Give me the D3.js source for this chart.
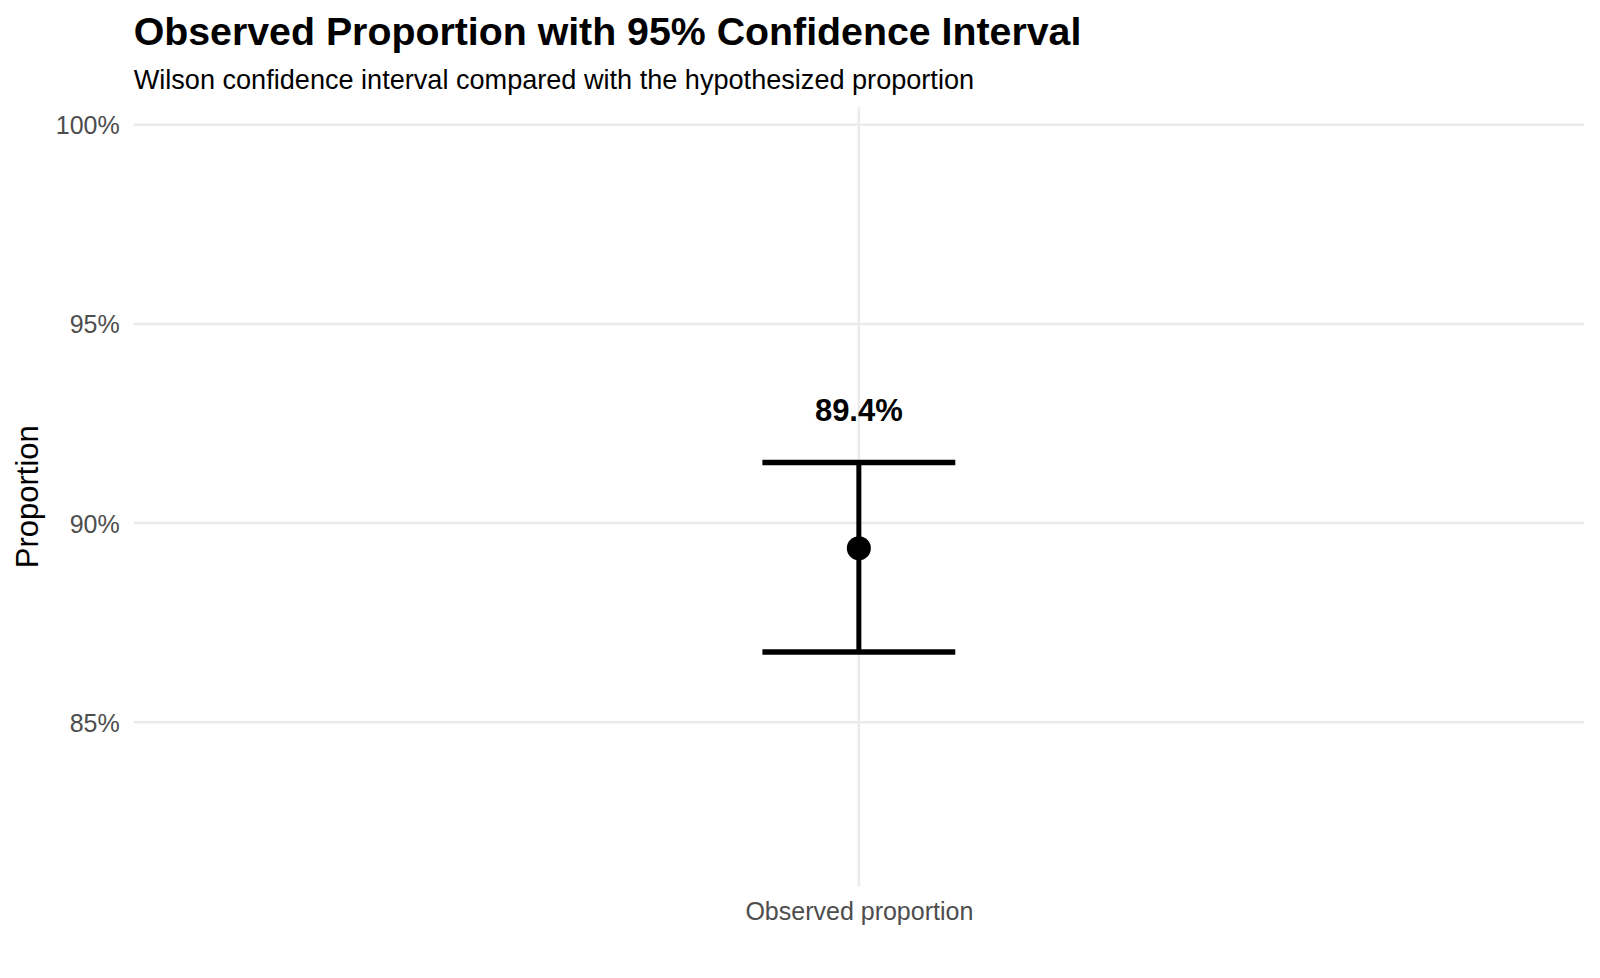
<!DOCTYPE html>
<head>
    <meta charset="utf-8">
    <script src="https://d3js.org/d3.v7.min.js"></script>
    <style>
        body { margin: 0; background: #fff; }
        text { font-family: "Liberation Sans", Arial, sans-serif; }
    </style>
</head>

<body>
    <div id="chart"></div>
</body>

<script>

    // data
    const categories = ["Observed proportion"];
    const estimates = [0.8937];
    const lowerCI = [0.8676];
    const upperCI = [0.9152];
    const yTicks = [0.85, 0.90, 0.95, 1.00];

    const width = 1600,
        height = 978;

    const panel = {left: 133.7, right: 1584, top: 107, bottom: 886.5};

    const svg = d3.select("#chart").append("svg")
        .attr("width", width)
        .attr("height", height);

    const x = d3.scalePoint()
        .domain(categories)
        .range([panel.left, panel.right])
        .padding(0.5);

    const y = d3.scaleLinear()
        .domain([0.80874, 1.00447])
        .range([panel.bottom, panel.top]);

    const rows = categories.map((c, i) => ({
        cat: c, est: estimates[i], lo: lowerCI[i], hi: upperCI[i]
    }));

    // gridlines
    svg.append("g")
        .selectAll("line").data(yTicks)
        .enter().append("line")
        .attr("x1", panel.left).attr("x2", panel.right)
        .attr("y1", d => y(d)).attr("y2", d => y(d))
        .attr("stroke", "#ebebeb")
        .attr("stroke-width", 2.5);

    svg.append("g")
        .selectAll("line").data(categories)
        .enter().append("line")
        .attr("x1", d => x(d)).attr("x2", d => x(d))
        .attr("y1", panel.top).attr("y2", panel.bottom)
        .attr("stroke", "#ebebeb")
        .attr("stroke-width", 2.5);

    // y axis labels
    const yAxis = d3.axisLeft(y)
        .tickValues(yTicks)
        .tickFormat(d3.format(".0%"))
        .tickSize(0)
        .tickPadding(14);

    svg.append("g")
        .attr("transform", `translate(${panel.left},0)`)
        .call(yAxis)
        .call(g => g.select(".domain").remove())
        .selectAll("text")
        .attr("font-family", "Liberation Sans, Arial, sans-serif")
        .attr("font-size", 25)
        .attr("dy", "0.36em")
        .attr("fill", "#4d4d4d");

    // x axis labels
    const xAxis = d3.axisBottom(x).tickSize(0).tickPadding(16);
    svg.append("g")
        .attr("transform", `translate(0,${panel.bottom})`)
        .call(xAxis)
        .call(g => g.select(".domain").remove())
        .selectAll("text")
        .attr("font-family", "Liberation Sans, Arial, sans-serif")
        .attr("font-size", 25)
        .attr("fill", "#4d4d4d");

    // error bars
    const capW = x.step() * 0.133;
    const bars = svg.append("g").selectAll("g").data(rows).enter().append("g");

    bars.append("line")
        .attr("x1", d => x(d.cat)).attr("x2", d => x(d.cat))
        .attr("y1", d => y(d.lo)).attr("y2", d => y(d.hi))
        .attr("stroke", "#000").attr("stroke-width", 5);

    bars.selectAll("line.cap").data(d => [d.lo, d.hi].map(v => ({cat: d.cat, v: v})))
        .enter().append("line").attr("class", "cap")
        .attr("x1", d => x(d.cat) - capW / 2).attr("x2", d => x(d.cat) + capW / 2)
        .attr("y1", d => y(d.v)).attr("y2", d => y(d.v))
        .attr("stroke", "#000").attr("stroke-width", 5.5);

    bars.append("circle")
        .attr("cx", d => x(d.cat)).attr("cy", d => y(d.est))
        .attr("r", 12)
        .attr("fill", "#000");

    bars.append("text")
        .attr("x", d => x(d.cat))
        .attr("y", d => y(d.hi) - 42)
        .attr("text-anchor", "middle")
        .attr("font-size", 31)
        .attr("font-weight", "bold")
        .text(d => d3.format(".1%")(d.est));

    // y axis title
    svg.append("text")
        .attr("transform", `translate(38,${(panel.top + panel.bottom) / 2}) rotate(-90)`)
        .attr("text-anchor", "middle")
        .attr("font-size", 31)
        .text("Proportion");

    // titles
    svg.append("text")
        .attr("x", panel.left).attr("y", 45)
        .attr("font-size", 39.3)
        .attr("font-weight", "bold")
        .text("Observed Proportion with 95% Confidence Interval");

    svg.append("text")
        .attr("x", panel.left).attr("y", 88.5)
        .attr("font-size", 27.1)
        .text("Wilson confidence interval compared with the hypothesized proportion");

</script>
